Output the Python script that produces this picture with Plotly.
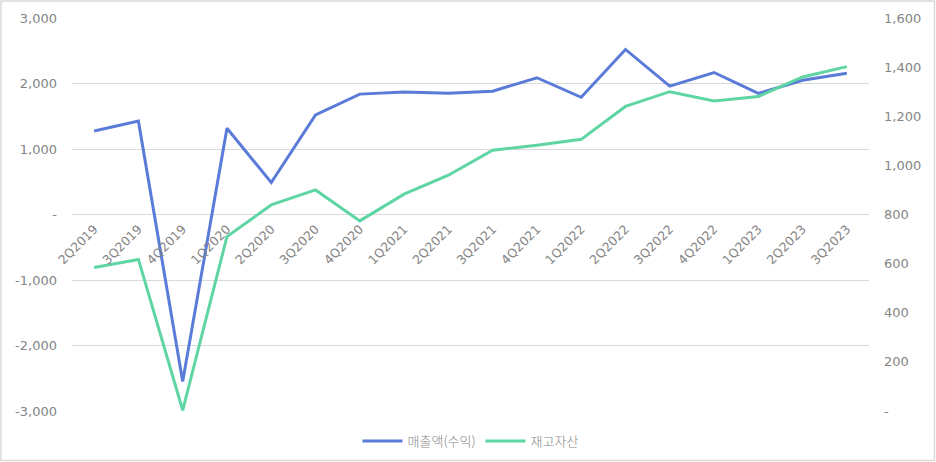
import plotly.graph_objects as go

categories = ["2Q2019", "3Q2019", "4Q2019", "1Q2020", "2Q2020", "3Q2020", "4Q2020",
              "1Q2021", "2Q2021", "3Q2021", "4Q2021", "1Q2022", "2Q2022", "3Q2022",
              "4Q2022", "1Q2023", "2Q2023", "3Q2023"]
revenue = [1275, 1425, -2550, 1316, 488, 1519, 1838, 1870, 1850, 1882, 2088, 1790,
           2520, 1960, 2168, 1848, 2050, 2155]
inventory = [584, 617, 3, 710, 839, 900, 774, 883, 960, 1062, 1082, 1106, 1240, 1300,
             1262, 1280, 1360, 1402]

left_ticks = [-3000, -2000, -1000, 0, 1000, 2000, 3000]
left_text = ["-3,000", "-2,000", "-1,000", "-", "1,000", "2,000", "3,000"]
right_ticks = [0, 200, 400, 600, 800, 1000, 1200, 1400, 1600]
right_text = ["-", "200", "400", "600", "800", "1,000", "1,200", "1,400", "1,600"]

W, H = 936, 462
ML, MR, MT, MB = 72, 67, 18, 51
pw, ph = W - ML - MR, H - MT - MB

font_fam = "DejaVu Sans, Noto Sans CJK KR, sans-serif"
txt_col = "#858585"

fig = go.Figure()
fig.add_trace(go.Scatter(x=categories, y=revenue, name="매출액(수익)", mode="lines",
                         line=dict(color="#5B7BD8", width=3), yaxis="y"))
fig.add_trace(go.Scatter(x=categories, y=inventory, name="재고자산", mode="lines",
                         line=dict(color="#5ED5A3", width=3), yaxis="y2"))

fig.update_layout(
    width=W, height=H,
    margin=dict(l=ML, r=MR, t=MT, b=MB, autoexpand=False),
    paper_bgcolor="white", plot_bgcolor="white",
    font=dict(family=font_fam, size=12, color=txt_col),
    showlegend=True,
    legend=dict(orientation="h", x=0.5, xanchor="center", y=-(441 - 411) / ph,
                yanchor="middle",
                font=dict(family="Noto Sans CJK KR, sans-serif", size=13,
                          color=txt_col, weight=300),
                itemwidth=40, tracegroupgap=0),
    xaxis=dict(type="category", anchor="free", position=0.5, showline=False,
               showgrid=False, ticks="", tickangle=-45, ticklabelstandoff=4,
               automargin=False,
               tickfont=dict(size=12.5, color=txt_col),
               range=[-0.5, len(categories) - 0.5]),
    yaxis=dict(range=[-3000, 3000], tickvals=left_ticks, ticktext=left_text,
               showgrid=True, gridcolor="#D9D9D9", gridwidth=1, zeroline=False,
               showline=False, ticks="", ticklabelstandoff=14, automargin=False,
               tickfont=dict(size=13, color=txt_col)),
    yaxis2=dict(range=[0, 1600], tickvals=right_ticks, ticktext=right_text,
                overlaying="y", side="right", showgrid=False, zeroline=False,
                showline=False, ticks="", ticklabelstandoff=14, automargin=False,
                tickfont=dict(size=13, color=txt_col)),
    shapes=[dict(type="rect", xref="paper", yref="paper",
                 x0=(-ML + 1) / pw, x1=(pw + MR - 1.5) / pw,
                 y0=(-MB + 1.5) / ph, y1=(ph + MT - 1) / ph,
                 line=dict(color="#D9D9D9", width=1.5), fillcolor="rgba(0,0,0,0)",
                 layer="below")],
)

fig.write_html("out.html")
